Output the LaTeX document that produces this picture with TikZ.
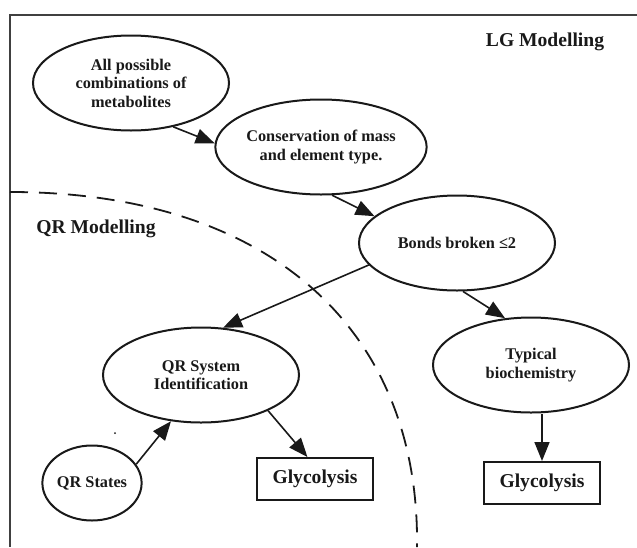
\documentclass[tikz,border=0pt]{standalone}
\usepackage{fontspec}
\setmainfont{Liberation Serif}
\usepackage{tikz}
\usetikzlibrary{shapes.geometric, arrows.meta}
\tikzset{
    stage/.style={draw, ellipse, minimum width=196pt, minimum height=95pt, inner sep=0pt, align=center, line width=2pt, draw=black!90, text=black!90, font=\bfseries\fontsize{16.3}{18.5}\selectfont},
    qrstate/.style={draw, ellipse, minimum width=92pt, minimum height=75pt, inner sep=0pt, align=center, line width=2pt, draw=black!90, text=black!90, font=\bfseries\fontsize{16.3}{18.5}\selectfont},
    outcome/.style={draw, rectangle, minimum width=116pt, minimum height=42pt, inner sep=0pt, line width=2pt, draw=black!90, text=black!90, font=\bfseries\fontsize{19.6}{22}\selectfont},
    region/.style={text=black!90, font=\bfseries\fontsize{19.6}{22}\selectfont},
    arrow/.style={line width=1.6pt, draw=black!90, -{Triangle[length=19pt, width=15pt]}}
}

\begin{document}
\begin{tikzpicture}[x=1pt, y=-1pt]
        \useasboundingbox (0,0) rectangle (637,547);

        % -----------------------------------------------------------------
        % FRAME
        % -----------------------------------------------------------------
        \draw[black!75, line width=1.6pt] (637,15) -- (10,15) -- (10,547);

        % -----------------------------------------------------------------
        % QR BOUNDARY
        % -----------------------------------------------------------------
        \draw[black!90, line width=1.8pt, dash pattern=on 18pt off 11pt]
            (10,192) .. controls (270,192) and (420,330) .. (417,547);

        \node[region] (lg) at (545,42) {LG Modelling};
        \node[region] (qr) at (96,229) {QR Modelling};

        % -----------------------------------------------------------------
        % STAGES
        % -----------------------------------------------------------------
        \node[stage] (all) at (131,83) {All possible\\combinations of\\metabolites};
        \node[stage] (mass) at (321,147) {Conservation of mass\\and element type.};
        \node[stage] (bonds) at (457,243) {Bonds broken ≤2};
        \node[stage] (qrid) at (201,375) {QR System\\Identification};
        \node[stage] (bio) at (531,365) {Typical\\biochemistry};
        \node[qrstate] (states) at (92,483) {QR States};

        \node[outcome] (glyqr) at (315,479) {Glycolysis};
        \node[outcome] (glylg) at (542,483) {Glycolysis};

        \fill[black!90] (115,433) circle (1pt);

        % -----------------------------------------------------------------
        % ARROWS
        % -----------------------------------------------------------------
        \draw[arrow] (all.-46) -- (mass.178);
        \draw[arrow] (mass.-77) -- (bonds.162);
        \draw[arrow] (bonds.194) -- (qrid.65);
        \draw[arrow] (bonds.-83) -- (bio.119);
        \draw[arrow] (states.23) -- (qrid.-123);
        \draw[arrow] (qrid.-28) -- (glyqr.109);
        \draw[arrow] (bio.south -| glylg.north) -- (glylg.north);

\end{tikzpicture}
\end{document}
